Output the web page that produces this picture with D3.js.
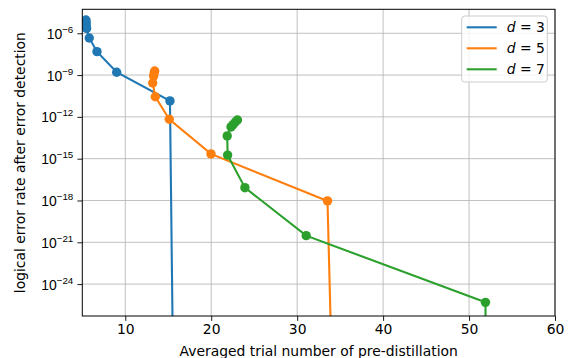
<!DOCTYPE html>
<html>
<head>
<meta charset="utf-8">
<script src="https://cdn.jsdelivr.net/npm/d3@7"></script>
<style>
  body { margin: 0; background: #fff; }
  svg { font-family: "DejaVu Sans", sans-serif; }
</style>
</head>
<body>
<svg id="chart" width="569" height="358"></svg>
<script>
// series values
var labels = ["3", "5", "7"];
var colors = ["#1f77b4", "#ff7f0e", "#2ca02c"];

var d3x = [5.42, 5.44, 5.46, 5.5, 5.81, 6.71, 9.0, 15.2, 15.56];
var d3y = [8.9e-6, 6.3e-6, 4.0e-6, 2.2e-6, 4.6e-7, 4.8e-8, 1.6e-9, 1.4e-11, 1e-30];

var d5x = [13.42, 13.36, 13.3, 13.19, 13.49, 15.12, 19.97, 33.53, 34.03];
var d5y = [1.95e-9, 1.4e-9, 8.5e-10, 2.7e-10, 2.8e-11, 6.8e-13, 2.2e-15, 9.3e-19, 1e-30];

var d7x = [23.05, 22.8, 22.55, 22.3, 21.86, 21.91, 23.92, 31.05, 51.91, 51.95];
var d7y = [6.0e-13, 4.3e-13, 2.8e-13, 1.9e-13, 4.3e-14, 1.8e-15, 8.3e-18, 3.0e-21, 4.9e-26, 1e-30];

var xTicks = [10, 20, 30, 40, 50, 60];
var yTickExp = [-6, -9, -12, -15, -18, -21, -24];

var series = [
  { label: labels[0], color: colors[0], x: d3x, y: d3y },
  { label: labels[1], color: colors[1], x: d5x, y: d5y },
  { label: labels[2], color: colors[2], x: d7x, y: d7y }
];

var svg = d3.select("#chart");
var axL = 82.3, axR = 555, axT = 9.3, axB = 316;

var x = d3.scaleLinear().domain([5, 60]).range([axL, axR]);
var y = d3.scaleLog().domain([Math.pow(10, -4.28), Math.pow(10, -26.29)]).range([axT, axB]);

// grid
var grid = svg.append("g");
grid.selectAll(".gx").data(xTicks).enter().append("line")
  .attr("x1", d => x(d)).attr("x2", d => x(d))
  .attr("y1", axT).attr("y2", axB)
  .attr("stroke", "#b0b0b0").attr("stroke-opacity", 0.8).attr("stroke-width", 1);
grid.selectAll(".gy").data(yTickExp).enter().append("line")
  .attr("x1", axL).attr("x2", axR)
  .attr("y1", d => y(Math.pow(10, d))).attr("y2", d => y(Math.pow(10, d)))
  .attr("stroke", "#b0b0b0").attr("stroke-opacity", 0.8).attr("stroke-width", 1);

// clip
svg.append("clipPath").attr("id", "clip").append("rect")
  .attr("x", axL).attr("y", axT).attr("width", axR - axL).attr("height", axB - axT);

var plot = svg.append("g").attr("clip-path", "url(#clip)");
var line = d3.line().x(d => x(d[0])).y(d => y(d[1]));

series.forEach(function(s) {
  var pts = s.x.map((v, i) => [v, s.y[i]]);
  plot.append("path").datum(pts)
    .attr("d", line)
    .attr("fill", "none")
    .attr("stroke", s.color)
    .attr("stroke-width", 2.1);
  plot.selectAll(null).data(pts).enter().append("circle")
    .attr("cx", d => x(d[0])).attr("cy", d => y(d[1]))
    .attr("r", 4.7)
    .attr("fill", s.color);
});

// axes
var xAxis = svg.append("g")
  .attr("transform", "translate(0," + axB + ")")
  .call(d3.axisBottom(x).tickValues(xTicks).tickSize(4.9).tickPadding(3.5).tickFormat(d3.format("d")));
xAxis.select(".domain").remove();
xAxis.selectAll("text").attr("font-size", 13.9).attr("fill", "#000").attr("font-family", "DejaVu Sans");
xAxis.selectAll("line").attr("stroke", "#000").attr("stroke-width", 0.9);

var yAxis = svg.append("g")
  .attr("transform", "translate(" + axL + ",0)")
  .call(d3.axisLeft(y).tickValues(yTickExp.map(e => Math.pow(10, e))).tickSize(4.9).tickPadding(3.5).tickFormat(""));
yAxis.select(".domain").remove();
yAxis.selectAll("line").attr("stroke", "#000").attr("stroke-width", 0.9);
yAxis.selectAll(".tick").each(function(d, i) {
  var t = d3.select(this).append("text")
    .attr("x", -9).attr("y", 5)
    .attr("text-anchor", "end")
    .attr("font-size", 13.9).attr("fill", "#000");
  t.append("tspan").text("10");
  t.append("tspan").attr("dy", -6).attr("font-size", 9.8).text("\u2212" + (-yTickExp[i]));
});

// spines
svg.append("rect")
  .attr("x", axL).attr("y", axT).attr("width", axR - axL).attr("height", axB - axT)
  .attr("fill", "none").attr("stroke", "#000").attr("stroke-width", 1);

// axis labels
svg.append("text")
  .attr("x", (axL + axR) / 2).attr("y", 355.5)
  .attr("text-anchor", "middle").attr("font-size", 13.9)
  .text("Averaged trial number of pre-distillation");
svg.append("text")
  .attr("transform", "translate(25," + ((axT + axB) / 2) + ") rotate(-90)")
  .attr("text-anchor", "middle").attr("font-size", 13.9)
  .text("logical error rate after error detection");

// legend
var lg = svg.append("g");
lg.append("rect")
  .attr("x", 461.7).attr("y", 16).attr("width", 85.6).attr("height", 66)
  .attr("rx", 3).attr("fill", "#fff").attr("fill-opacity", 0.8)
  .attr("stroke", "#cccccc").attr("stroke-width", 1);
series.forEach(function(s, i) {
  var cy = 27.3 + i * 21;
  lg.append("line").attr("x1", 466.7).attr("x2", 496.7).attr("y1", cy).attr("y2", cy)
    .attr("stroke", s.color).attr("stroke-width", 2.1);
  var t = lg.append("text").attr("x", 506.7).attr("y", cy + 5).attr("font-size", 13.9);
  t.append("tspan").attr("font-style", "italic").text("d");
  t.append("tspan").text(" = " + s.label);
});
</script>
</body>
</html>
